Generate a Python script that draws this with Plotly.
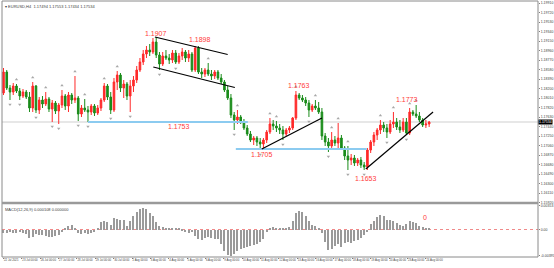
import plotly.graph_objects as go
from plotly.subplots import make_subplots

# ---------------- data ----------------
bars = list(range(132))

opens = [1.1811,1.1853,1.1821,1.1813,1.1825,1.1815,1.1805,1.1813,1.1803,1.1781,
         1.1825,1.1777,1.1797,1.1789,1.1799,1.1779,1.1791,1.1775,1.1787,1.1805,
         1.1785,1.1807,1.1797,1.1801,1.1769,1.1781,1.1777,1.1773,1.1785,1.1771,
         1.1781,1.1797,1.1825,1.1803,1.1777,1.1833,1.1847,1.1821,1.1829,1.1805,
         1.1825,1.1837,1.1857,1.1873,1.1889,1.1897,1.1893,1.1913,1.1887,1.1869,
         1.1885,1.1881,1.1877,1.1891,1.1873,1.1885,1.1893,1.1881,1.1889,1.1857,
         1.1901,1.1853,1.1849,1.1857,1.1849,1.1845,1.1853,1.1841,1.1833,1.1817,
         1.1801,1.1767,1.1757,1.1763,1.1753,1.1741,1.1729,1.1717,1.1721,1.1713,
         1.1709,1.1717,1.1733,1.1749,1.1745,1.1741,1.1737,1.1729,1.1737,1.1741,
         1.1761,1.1807,1.1801,1.1797,1.1791,1.1777,1.1785,1.1781,1.1773,1.1725,
         1.1713,1.1705,1.1717,1.1711,1.1721,1.1701,1.1685,1.1677,1.1681,1.1671,
         1.1677,1.1667,1.1663,1.1697,1.1713,1.1727,1.1737,1.1747,1.1741,1.1733,
         1.1749,1.1753,1.1743,1.1737,1.1753,1.1731,1.1773,1.1769,1.1765,1.1757,
         1.1747,1.1749]
highs = [1.1861,1.1857,1.1827,1.1831,1.1829,1.1821,1.1819,1.1817,1.1813,1.1833,
         1.1827,1.1803,1.1805,1.1813,1.1803,1.1797,1.1795,1.1791,1.1817,1.1809,
         1.1813,1.1811,1.1845,1.1805,1.1787,1.1799,1.1785,1.1789,1.1789,1.1787,
         1.1801,1.1831,1.1829,1.1813,1.1841,1.1855,1.1851,1.1837,1.1833,1.1837,
         1.1845,1.1865,1.1881,1.1897,1.1905,1.1909,1.1921,1.1923,1.1893,1.1893,
         1.1897,1.1889,1.1897,1.1897,1.1891,1.1901,1.1897,1.1897,1.1893,1.1905,
         1.1905,1.1861,1.1861,1.1871,1.1857,1.1857,1.1857,1.1849,1.1837,1.1825,
         1.1809,1.1773,1.1777,1.1767,1.1759,1.1747,1.1735,1.1725,1.1725,1.1721,
         1.1721,1.1737,1.1761,1.1757,1.1755,1.1749,1.1745,1.1741,1.1745,1.1763,
         1.1815,1.1811,1.1807,1.1803,1.1797,1.1789,1.1797,1.1793,1.1781,1.1731,
         1.1721,1.1733,1.1725,1.1751,1.1727,1.1705,1.1705,1.1689,1.1687,1.1681,
         1.1683,1.1673,1.1701,1.1717,1.1733,1.1741,1.1757,1.1753,1.1749,1.1757,
         1.1773,1.1761,1.1757,1.1761,1.1761,1.1781,1.1777,1.1787,1.1773,1.1761,
         1.1757,1.1755]
lows = [1.1807,1.1817,1.1797,1.1807,1.1811,1.1797,1.1801,1.1799,1.1773,1.1773,
        1.1771,1.1769,1.1781,1.1785,1.1773,1.1753,1.1769,1.1749,1.1781,1.1777,
        1.1773,1.1789,1.1791,1.1755,1.1763,1.1773,1.1753,1.1767,1.1765,1.1767,
        1.1775,1.1793,1.1797,1.1769,1.1773,1.1817,1.1813,1.1801,1.1797,1.1773,
        1.1813,1.1831,1.1853,1.1867,1.1881,1.1885,1.1889,1.1881,1.1857,1.1865,
        1.1877,1.1869,1.1871,1.1869,1.1869,1.1877,1.1873,1.1873,1.1853,1.1853,
        1.1849,1.1841,1.1843,1.1845,1.1837,1.1839,1.1837,1.1829,1.1813,1.1797,
        1.1761,1.1737,1.1749,1.1749,1.1737,1.1725,1.1713,1.1707,1.1705,1.1697,
        1.1701,1.1711,1.1729,1.1737,1.1733,1.1729,1.1717,1.1725,1.1731,1.1737,
        1.1757,1.1797,1.1793,1.1785,1.1763,1.1773,1.1777,1.1769,1.1717,1.1705,
        1.1693,1.1701,1.1705,1.1701,1.1697,1.1677,1.1657,1.1667,1.1665,1.1665,
        1.1661,1.1657,1.1657,1.1691,1.1705,1.1717,1.1729,1.1733,1.1721,1.1729,
        1.1741,1.1737,1.1731,1.1733,1.1727,1.1727,1.1765,1.1761,1.1753,1.1743,
        1.1741,1.1743]
closes = [1.1853,1.1821,1.1813,1.1825,1.1815,1.1805,1.1813,1.1803,1.1781,1.1825,
          1.1777,1.1797,1.1789,1.1799,1.1779,1.1791,1.1775,1.1787,1.1805,1.1785,
          1.1807,1.1797,1.1801,1.1769,1.1781,1.1777,1.1773,1.1785,1.1771,1.1781,
          1.1797,1.1825,1.1803,1.1777,1.1833,1.1847,1.1821,1.1829,1.1805,1.1825,
          1.1837,1.1857,1.1873,1.1889,1.1897,1.1893,1.1913,1.1887,1.1869,1.1885,
          1.1881,1.1877,1.1891,1.1873,1.1885,1.1893,1.1881,1.1889,1.1857,1.1901,
          1.1853,1.1849,1.1857,1.1849,1.1845,1.1853,1.1841,1.1833,1.1817,1.1801,
          1.1767,1.1757,1.1763,1.1753,1.1741,1.1729,1.1717,1.1721,1.1713,1.1709,
          1.1717,1.1733,1.1749,1.1745,1.1741,1.1737,1.1729,1.1737,1.1741,1.1761,
          1.1807,1.1801,1.1797,1.1791,1.1777,1.1785,1.1781,1.1773,1.1725,1.1713,
          1.1705,1.1717,1.1711,1.1721,1.1701,1.1685,1.1677,1.1681,1.1671,1.1677,
          1.1667,1.1663,1.1697,1.1713,1.1727,1.1737,1.1747,1.1741,1.1733,1.1749,
          1.1753,1.1743,1.1737,1.1753,1.1731,1.1773,1.1769,1.1765,1.1757,1.1747,
          1.1749,1.1753]

macd = [-0.00060,-0.00060,-0.00045,-0.00060,-0.00060,-0.00045,-0.00060,-0.00075,-0.00135,-0.00120,
        -0.00075,-0.00090,-0.00090,-0.00105,-0.00120,-0.00120,-0.00105,-0.00090,-0.00045,0.00030,
        0.00060,0.00075,0.00015,-0.00060,-0.00075,-0.00060,-0.00075,-0.00060,-0.00045,0.00015,
        0.00120,0.00135,0.00120,0.00075,0.00180,0.00165,0.00150,0.00150,0.00060,0.00135,
        0.00210,0.00270,0.00315,0.00330,0.00315,0.00255,0.00210,0.00120,0.00060,0.00045,
        0.00030,0.00015,0.00008,0.00030,0.00015,-0.00015,-0.00045,-0.00060,-0.00045,-0.00105,
        -0.00150,-0.00165,-0.00135,-0.00120,-0.00135,-0.00150,-0.00150,-0.00225,-0.00330,-0.00390,
        -0.00400,-0.00375,-0.00330,-0.00300,-0.00285,-0.00270,-0.00255,-0.00240,-0.00225,-0.00195,
        -0.00150,-0.00045,0.00030,0.00045,0.00030,0.00015,0.00008,0.00015,0.00045,0.00135,
        0.00255,0.00285,0.00270,0.00210,0.00135,0.00075,0.00060,0.00030,-0.00060,-0.00195,
        -0.00315,-0.00300,-0.00255,-0.00225,-0.00270,-0.00210,-0.00195,-0.00210,-0.00180,-0.00165,
        -0.00135,-0.00090,-0.00045,0.00090,0.00135,0.00195,0.00225,0.00210,0.00150,0.00150,
        0.00135,0.00105,0.00075,0.00060,0.00090,0.00135,0.00120,0.00105,0.00060,0.00045,
        0.00015,0.00008]

up_fractals = [4, 9, 13, 18, 22, 25, 31, 35, 63, 72, 82, 84, 90, 96, 101, 103, 106, 116, 120, 125, 127]
down_fractals = [2, 5, 10, 15, 17, 23, 26, 33, 39, 48, 53, 71, 79, 86, 94, 100, 106, 111, 118, 124]

bid_price = 1.1753

# drawn objects (bar index, price)
trend_lines = [((46.6, 1.1923), (69.0, 1.1888)),
               ((46.1, 1.1863), (71.2, 1.1822)),
               ((79.5, 1.1699), (98.0, 1.1761)),
               ((111.5, 1.1659), (132.2, 1.1773))]
levels = [(26.0, 75.2, 1.1753), (71.5, 111.8, 1.1699)]
price_labels = [("1.1907", 46.9, 1.1930), ("1.1898", 60.5, 1.1919), ("1.1753", 54.0, 1.1744),
                ("1.1763", 90.9, 1.1827), ("1.1705", 79.5, 1.1688), ("1.1653", 111.5, 1.1640),
                ("1.1773", 124.2, 1.1798)]

y_ticks = [1.1991, 1.1972, 1.1953, 1.1934, 1.1915, 1.1896, 1.1877, 1.1858, 1.1839, 1.1820,
           1.1801, 1.1782, 1.1763, 1.1744, 1.1725, 1.1706, 1.1687, 1.1668, 1.1649, 1.1630,
           1.1611, 1.1592]
x_tick_pos = [0, 5.65, 11.3, 16.95, 22.6, 28.25, 33.9, 39.55, 45.2, 50.85, 56.5, 62.15,
              67.8, 73.45, 79.1, 84.75, 90.4, 96.05, 101.7, 107.35, 113.0, 118.65, 124.3, 129.95]
x_tick_text = ["22 Jul 2021", "23 Jul 00:00", "26 Jul 00:00", "27 Jul 00:00", "28 Jul 00:00",
               "29 Jul 00:00", "30 Jul 00:00", "2 Aug 00:00", "3 Aug 00:00", "4 Aug 00:00",
               "5 Aug 00:00", "6 Aug 00:00", "9 Aug 00:00", "10 Aug 00:00", "11 Aug 00:00",
               "12 Aug 00:00", "13 Aug 00:00", "16 Aug 00:00", "17 Aug 00:00", "18 Aug 00:00",
               "19 Aug 00:00", "20 Aug 00:00", "23 Aug 00:00", "24 Aug 00:00"]

# ---------------- figure ----------------
FONT = "Liberation Sans, Arial, sans-serif"
TICKFONT = dict(size=3.5, color="#404040", family=FONT)
XTICKFONT = dict(size=2.8, color="#404040", family=FONT)
SPLIT = 0.2109
fig = make_subplots(rows=2, cols=1, shared_xaxes=True, vertical_spacing=0)

fig.add_trace(go.Candlestick(
    x=bars, open=opens, high=highs, low=lows, close=closes,
    increasing=dict(line=dict(color="#ff2a2a", width=1), fillcolor="#ff2a2a"),
    decreasing=dict(line=dict(color="#1a8c1a", width=1), fillcolor="#1a8c1a"),
    whiskerwidth=0, showlegend=False, hoverinfo="skip"), row=1, col=1)

fig.add_trace(go.Scatter(
    x=up_fractals, y=[highs[i] + 0.0009 for i in up_fractals], mode="markers",
    marker=dict(symbol="triangle-up", size=3, color="#a8a8a8"),
    showlegend=False, hoverinfo="skip"), row=1, col=1)
fig.add_trace(go.Scatter(
    x=down_fractals, y=[lows[i] - 0.0009 for i in down_fractals], mode="markers",
    marker=dict(symbol="triangle-down", size=3, color="#a8a8a8"),
    showlegend=False, hoverinfo="skip"), row=1, col=1)

fig.add_trace(go.Bar(x=bars, y=macd, marker=dict(color="#9a9a9a", line=dict(width=0)),
                     width=0.4, showlegend=False, hoverinfo="skip"), row=2, col=1)

shapes = []
shapes.append(dict(type="line", xref="paper", x0=0, x1=1, yref="y", y0=bid_price, y1=bid_price,
                   line=dict(color="#cfcfcf", width=1), layer="below"))
for x0, x1, lv in levels:
    shapes.append(dict(type="line", xref="x", x0=x0, x1=x1, yref="y", y0=lv, y1=lv,
                       line=dict(color="#8ccbf0", width=2)))
for (xa, ya), (xb, yb) in trend_lines:
    shapes.append(dict(type="line", xref="x", x0=xa, x1=xb, yref="y", y0=ya, y1=yb,
                       line=dict(color="#000000", width=1.2)))
shapes.append(dict(type="line", xref="paper", x0=0, x1=1, yref="y2", y0=0, y1=0,
                   line=dict(color="#f08a8a", width=1, dash="dot"), layer="below"))
shapes.append(dict(type="rect", xref="paper", x0=0, x1=1, yref="y domain", y0=0, y1=1,
                   line=dict(color="#8a8a8a", width=1)))
shapes.append(dict(type="rect", xref="paper", x0=0, x1=1, yref="y2 domain", y0=0, y1=1,
                   line=dict(color="#8a8a8a", width=1)))
shapes.append(dict(type="line", xref="paper", x0=0, x1=1, yref="y domain", y0=0, y1=0,
                   line=dict(color="#9a9a9a", width=2.5)))

annotations = []
for txt, bx, py in price_labels:
    annotations.append(dict(x=bx, y=py, xref="x", yref="y", text=txt, showarrow=False,
                            font=dict(family=FONT, size=7, color="#ff3b3b")))
annotations.append(dict(x=129.7, y=0.00186, xref="x2", yref="y2", text="0", showarrow=False,
                        font=dict(family=FONT, size=7, color="#ff3b3b")))
annotations.append(dict(x=0.002, y=0.996, xref="paper", yref="paper", xanchor="left", yanchor="top",
                        text="\u25be EURUSD,H4  1.17494 1.17553 1.17434 1.17534", showarrow=False,
                        font=dict(family=FONT, size=4, color="#404040")))
annotations.append(dict(x=0.002, y=SPLIT - 0.007, xref="paper", yref="paper", xanchor="left",
                        yanchor="top", text="MACD(12,26,9) 0.000108 0.000000", showarrow=False,
                        font=dict(family=FONT, size=4, color="#404040")))
annotations.append(dict(x=1.0, y=bid_price, xref="paper", yref="y", xanchor="left", yanchor="middle",
                        text="1.17534", showarrow=False, bgcolor="#000000", borderpad=0,
                        font=dict(family=FONT, size=3.5, color="#ffffff")))

fig.update_layout(
    width=554, height=268,
    margin=dict(l=2, r=16, t=1, b=11, autoexpand=False),
    paper_bgcolor="white", plot_bgcolor="white",
    shapes=shapes, annotations=annotations,
    bargap=0, showlegend=False,
    font=dict(family=FONT, size=4, color="#404040"),
)
xr = [-0.46, 164.5]
fig.update_xaxes(range=xr, showgrid=False, zeroline=False, rangeslider=dict(visible=False),
                 showline=False)
fig.update_xaxes(showticklabels=False, ticks="", row=1, col=1)
fig.update_xaxes(tickvals=x_tick_pos, ticktext=x_tick_text, ticks="outside", ticklen=1,
                 tickcolor="#808080", tickfont=XTICKFONT, tickangle=0,
                 ticklabelposition="outside right", row=2, col=1)
fig.update_yaxes(domain=[SPLIT, 1], range=[1.1591, 1.1995], side="right", showgrid=False,
                 zeroline=False, tickvals=y_ticks, ticktext=[f"{v:.5f}" for v in y_ticks],
                 ticks="outside", ticklen=1, tickcolor="#808080",
                 tickfont=TICKFONT, row=1, col=1)
fig.update_yaxes(domain=[0, SPLIT], range=[-0.004125, 0.003975], side="right", showgrid=False,
                 zeroline=False, tickvals=[0.00353, 0.0, -0.00395],
                 ticktext=["0.00353", "0.00", "-0.00395"],
                 ticks="outside", ticklen=1, tickcolor="#808080",
                 tickfont=TICKFONT, row=2, col=1)

fig.write_html("out.html")
